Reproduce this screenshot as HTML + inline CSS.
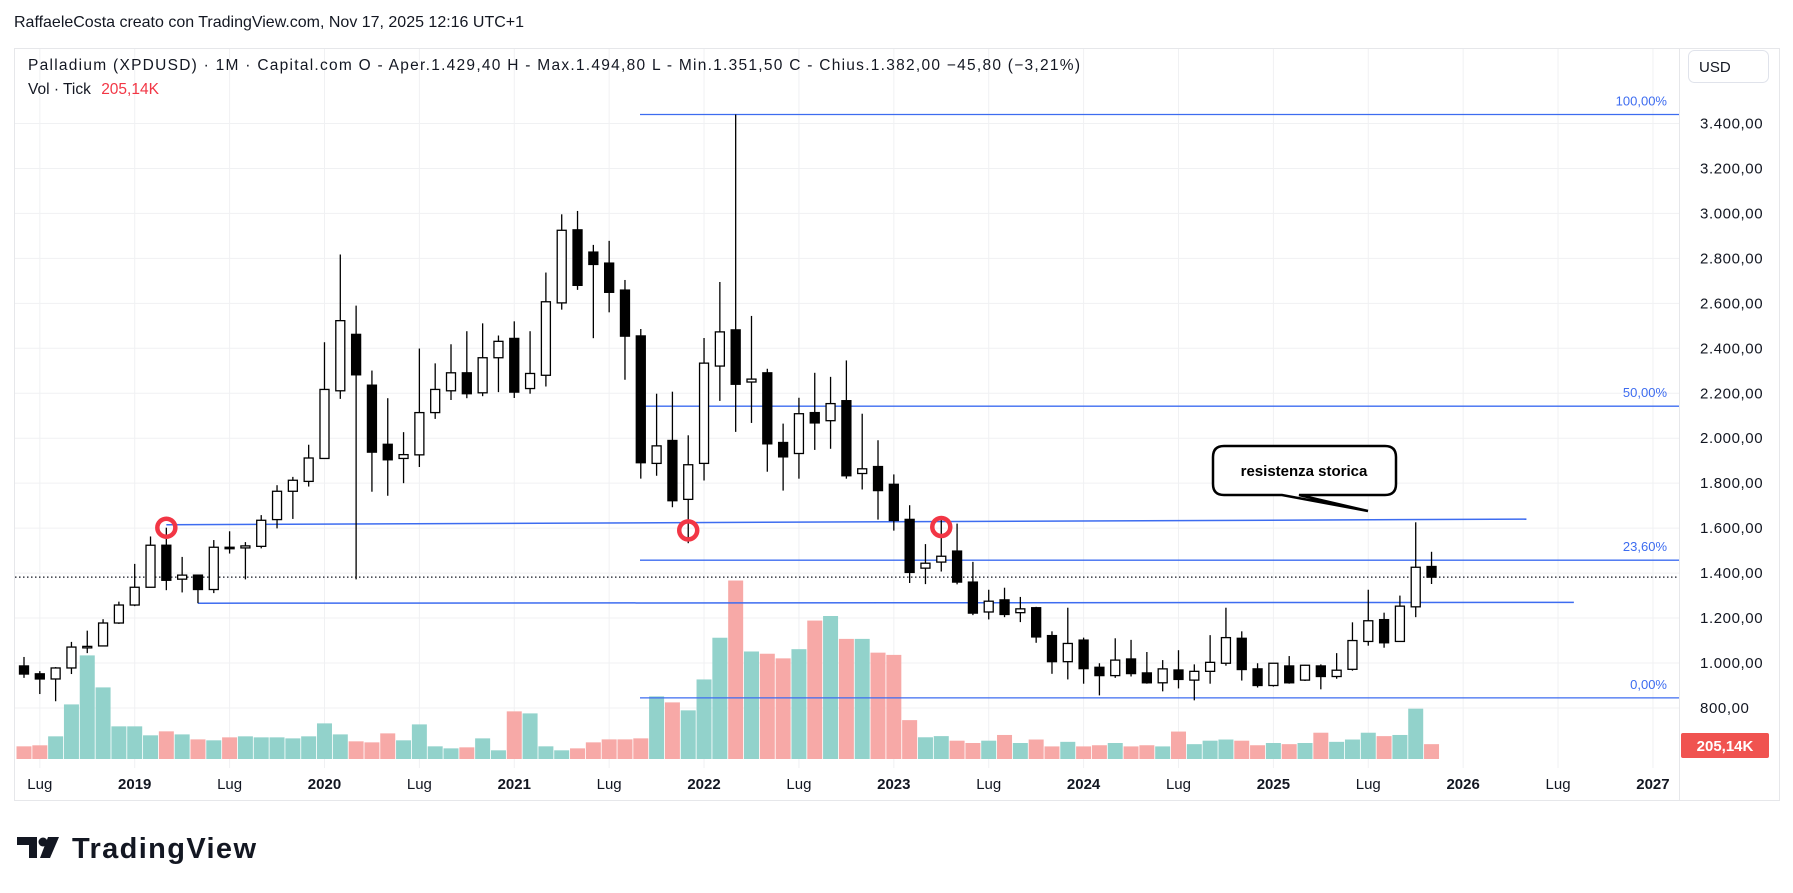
<!DOCTYPE html>
<html><head><meta charset="utf-8"><style>
html,body{margin:0;padding:0;background:#fff;width:1793px;height:893px;overflow:hidden}
svg{display:block;font-family:"Liberation Sans",sans-serif}
</style></head><body>
<svg id="chart" width="1793" height="893" viewBox="0 0 1793 893" xmlns="http://www.w3.org/2000/svg">
<text x="14" y="27" font-size="16" fill="#131722" textLength="510">RaffaeleCosta creato con TradingView.com, Nov 17, 2025 12:16 UTC+1</text>
<rect x="14.5" y="48.5" width="1765" height="752" fill="#fff" stroke="#e6e7ea"/>
<line x1="1679.5" y1="48" x2="1679.5" y2="800" stroke="#e6e7ea"/>
<g id="grid"></g>
<g id="vol"></g>
<g id="draw"></g>
<g id="candles"></g>
<g id="yaxis"></g>
<g id="xaxis"></g>
<text x="28" y="70" font-size="15.5" fill="#131722" textLength="1052">Palladium (XPDUSD) · 1M · Capital.com  O - Aper.1.429,40  H - Max.1.494,80  L - Min.1.351,50  C - Chius.1.382,00  −45,80 (−3,21%)</text>
<text x="28" y="94" font-size="15.5" fill="#131722">Vol · Tick <tspan fill="#f23645" dx="6">205,14K</tspan></text>
<rect x="1688.5" y="50.5" width="80" height="32" rx="6" fill="#fff" stroke="#e0e3eb"/>
<text x="1699" y="72" font-size="15" fill="#131722">USD</text>
<g>
<path d="M1224,446 H1385 Q1396,446 1396,457 V484 Q1396,495 1385,495 H1299 L1368,511 L1282,495 H1224 Q1213,495 1213,484 V457 Q1213,446 1224,446 Z" fill="#fff" stroke="#000" stroke-width="2.5"/>
<text x="1304" y="476" font-size="15" font-weight="bold" fill="#000" text-anchor="middle">resistenza storica</text>
</g>
<g>
<path d="M17,837 H37 V858 H29 V845 H17 Z" fill="#131722"/>
<circle cx="43" cy="842" r="4.5" fill="#131722"/>
<path d="M48,837 H59 L50,858 H40 Z" fill="#131722"/>
<text x="72" y="858" font-size="29" font-weight="bold" fill="#131722" textLength="184">TradingView</text>
</g>
</svg>
<script>
const open_ = [987,952,929,978,1071,1076,1178,1258,1337,1524,1373,1391,1327,1515,1512,1519,1638,1764,1808,1910,2211,2462,2236,1973,1910,1926,2114,2211,2291,2202,2358,2444,2221,2280,2602,2927,2828,2779,2659,2455,1888,1990,1728,1888,2321,2482,2250,2291,1981,1932,2114,2078,2167,1843,1874,1795,1639,1422,1449,1498,1360,1227,1281,1224,1246,1122,1006,1102,981,944,1018,956,912,969,924,963,999,1110,974,900,987,924,987,940,972,1096,1193,1096,1250,1429.4];
const high_ = [1027,964,982,1094,1144,1195,1273,1441,1563,1602,1472,1391,1547,1586,1538,1658,1791,1828,1971,2427,2817,2590,2301,2178,2027,2399,2333,2418,2476,2511,2457,2520,2476,2737,2996,3011,2860,2878,2704,2486,2198,2207,2013,2446,2695,3440,2544,2309,2065,2180,2291,2273,2346,2109,1991,1839,1702,1529,1641,1620,1450,1326,1335,1294,1250,1141,1246,1113,999,1110,1103,1049,1013,1057,994,1124,1246,1141,999,999,1031,992,994,1044,1181,1326,1224,1300,1626,1494.8];
const low_ = [934,862,830,951,1044,1076,1174,1253,1337,1324,1314,1266,1311,1487,1372,1510,1599,1641,1785,1910,2175,1372,1762,1744,1800,1872,2086,2170,2178,2187,2205,2179,2198,2230,2572,2660,2445,2560,2260,1820,1833,1693,1533,1812,2166,2028,2068,1851,1767,1820,1948,1953,1820,1772,1638,1589,1356,1351,1407,1350,1213,1194,1204,1182,1090,952,927,908,856,934,940,908,874,887,834,908,988,922,891,895,908,920,883,930,966,1077,1068,1096,1204,1351.5];
const close_ = [951,929,978,1071,1074,1178,1258,1337,1524,1368,1391,1327,1515,1510,1521,1635,1764,1813,1912,2217,2523,2282,1938,1904,1927,2114,2217,2291,2198,2358,2431,2205,2288,2607,2925,2680,2773,2649,2454,1891,1966,1722,1882,2334,2473,2240,2263,1975,1917,2109,2068,2154,1833,1864,1767,1634,1403,1444,1475,1360,1222,1275,1216,1241,1116,1006,1087,975,944,1013,953,912,974,927,963,1003,1113,971,900,999,912,990,940,968,1100,1188,1090,1253,1426,1382];
const volumeK = [175,189,313,754,1431,989,451,451,327,382,340,271,258,299,313,299,299,285,313,492,340,244,230,354,258,478,175,147,161,285,120,658,630,175,120,147,230,271,271,285,865,782,672,1099,1675,2465,1485,1454,1390,1517,1912,1975,1659,1659,1469,1438,537,300,316,253,221,253,332,221,269,174,237,174,190,221,174,190,174,379,205,253,269,253,190,221,205,221,363,237,269,363,316,332,695,205];
const priceTicks = [800,1000,1200,1400,1600,1800,2000,2200,2400,2600,2800,3000,3200,3400];
const timeLabels = ["Lug","2019","Lug","2020","Lug","2021","Lug","2022","Lug","2023","Lug","2024","Lug","2025","Lug","2026","Lug","2027"];
const timeLabelMonths = [1,7,13,19,25,31,37,43,49,55,61,67,73,79,85,91,97,103];
const fibRatios = [1,0.5,0.236,0];
const fibLabels = ["100,00%","50,00%","23,60%","0,00%"];
const fibHigh = 3440, fibLow = 845;
const resistanceLine = [[9,1615],[95,1640]];
const supportLine = [[11,1266],[98,1270]];
const circleMarks = [[9,1602],[42,1590],[58,1605]];
const lastClose = 1382;

const NS="http://www.w3.org/2000/svg";
const yP = p => 123.5 + (3400-p)*0.2248;
const xM = m => 24 + 15.815*m;
const yV = v => 759 - v*0.0724;
function mk(parent,tag,attrs){const e=document.createElementNS(NS,tag);for(const k in attrs)e.setAttribute(k,attrs[k]);document.getElementById(parent).appendChild(e);return e;}

// grid
priceTicks.forEach(p=>{
  const l=mk('grid','line',{x1:15,x2:1679,y1:yP(p),y2:yP(p),stroke:'#f0f1f3'});
  
  
});
timeLabelMonths.forEach(m=>{
  const l=mk('grid','line',{x1:xM(m),x2:xM(m),y1:49,y2:768,stroke:'#f0f1f3'});
  
  
});
// volume
volumeK.forEach((v,i)=>{
  const up=close_[i]>=open_[i];
  const r=mk('vol','rect',{x:xM(i)-7.5,y:yV(v),width:15,height:759-yV(v),fill:up?'#92d2cb':'#f7a9a7'});
  
  
});
// dotted last price line
const dl=mk('draw','line',{x1:15,x2:1679,y1:yP(lastClose),y2:yP(lastClose),stroke:'#131722','stroke-dasharray':'1.5 2.5','stroke-width':1.2});


// fib
fibRatios.forEach((r,i)=>{
  const p=fibLow+r*(fibHigh-fibLow);
  const l=mk('draw','line',{x1:640,x2:1679,y1:yP(p),y2:yP(p),stroke:'#3d6cf0','stroke-width':1.3});
  
  
  const t=mk('draw','text',{x:1667,y:yP(p)-9,'font-size':13,fill:'#3d6cf0','text-anchor':'end'});
  t.textContent=fibLabels[i];
  
  
});
[resistanceLine,supportLine].forEach((ln,i)=>{
  const l=mk('draw','line',{x1:xM(ln[0][0]),y1:yP(ln[0][1]),x2:xM(ln[1][0]),y2:yP(ln[1][1]),stroke:'#3d6cf0','stroke-width':1.5});
  
  
});
// candles
open_.forEach((o,i)=>{
  const c=close_[i],up=c>=o,x=xM(i);
  const w=mk('candles','line',{x1:x,x2:x,y1:yP(high_[i]),y2:yP(low_[i]),stroke:'#000','stroke-width':1.3});
  
  
  const top=yP(Math.max(o,c)),bot=yP(Math.min(o,c));
  const b=mk('candles','rect',{x:x-4.5,y:top,width:9,height:Math.max(bot-top,1.5),fill:up?'#fff':'#000',stroke:'#000','stroke-width':1.3});
  
  
});
circleMarks.forEach(cm=>{
  const c=mk('candles','circle',{cx:xM(cm[0]),cy:yP(cm[1]),r:9,fill:'none',stroke:'#f23645','stroke-width':4.5});
  
  
});
// axes labels
priceTicks.forEach(p=>{
  const t=mk('yaxis','text',{x:1700,y:yP(p)+5,'font-size':15,fill:'#131722','letter-spacing':'0.6'});
  t.textContent=p.toLocaleString('de-DE')+',00';
  
  
});
const vr=mk('yaxis','rect',{x:1681,y:733,width:88,height:25,rx:2,fill:'#f05350'});


const vt=mk('yaxis','text',{x:1725,y:751,'font-size':15,'font-weight':'bold',fill:'#fff','text-anchor':'middle'});
vt.textContent='205,14K';


timeLabels.forEach((s,i)=>{
  const t=mk('xaxis','text',{x:xM(timeLabelMonths[i]),y:789,'font-size':15,fill:'#131722','text-anchor':'middle','font-weight':/^\d/.test(s)?'bold':'normal'});
  t.textContent=s;
  
  
});
</script>
</body></html>
